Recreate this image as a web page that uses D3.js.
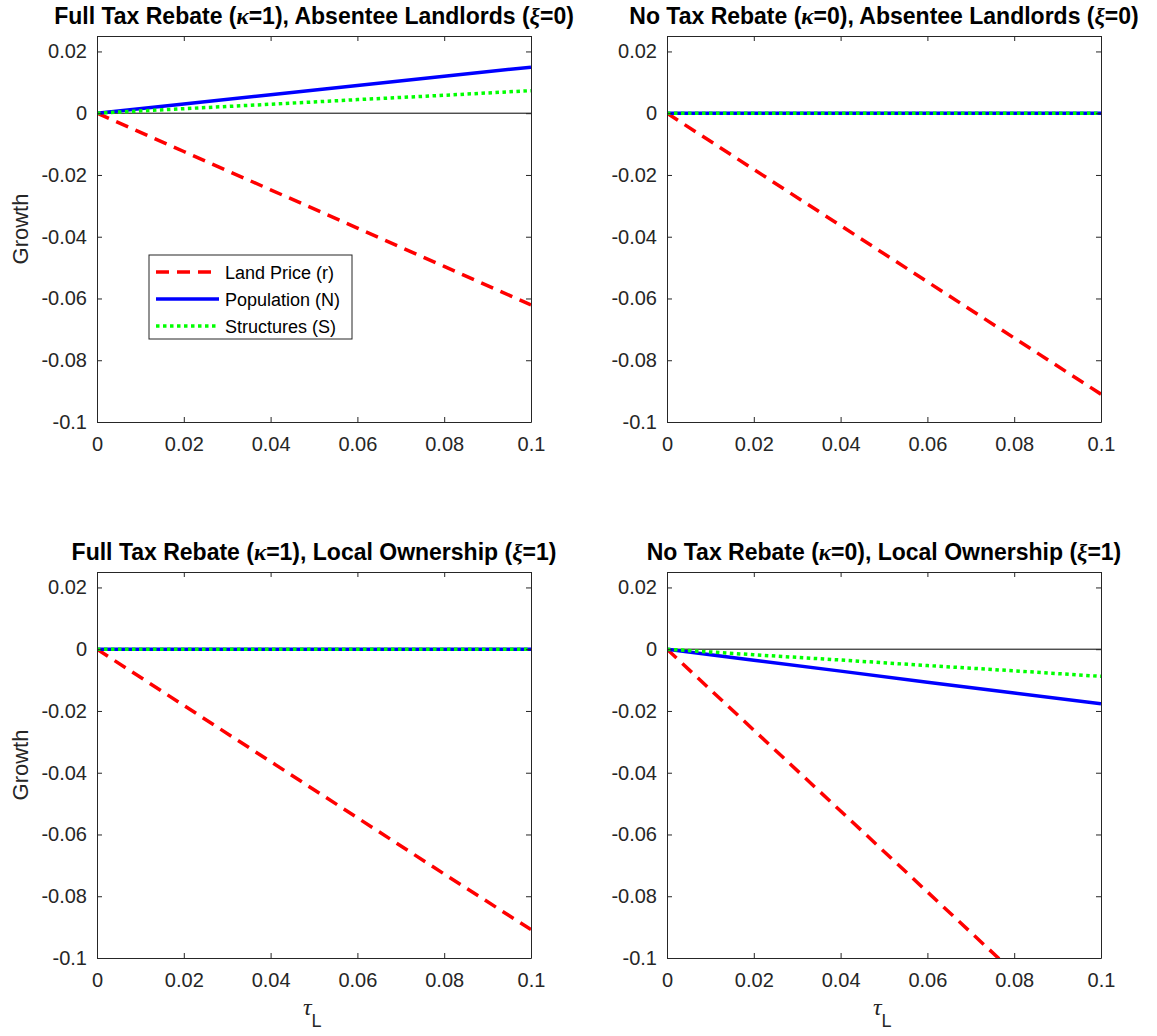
<!DOCTYPE html>
<html>
<head>
<meta charset="utf-8">
<script src="https://cdn.jsdelivr.net/npm/d3@7"></script>
<style>
  body { margin: 0; background: #fff; }
  text { font-family: "Liberation Sans", Arial, sans-serif; }
</style>
</head>
<body>
<div id="chart"></div>
<script>
// x values (tau_L)
var tau = [0, 0.02, 0.04, 0.06, 0.08, 0.1];

// Full rebate, absentee landlords
var landPrice1 = [0, -0.0124, -0.0248, -0.0372, -0.0496, -0.0621];
var population1 = [0, 0.003, 0.006, 0.009, 0.012, 0.0149];
var structures1 = [0, 0.00146, 0.0029, 0.0044, 0.0058, 0.0073];

// No rebate, absentee landlords
var landPrice2 = [0, -0.0182, -0.0364, -0.0546, -0.0728, -0.091];
var population2 = [0, 0, 0, 0, 0, 0];
var structures2 = [0, 0, 0, 0, 0, 0];

// Full rebate, local ownership
var landPrice3 = [0, -0.0182, -0.0364, -0.0546, -0.0728, -0.0908];
var population3 = [0, 0, 0, 0, 0, 0];
var structures3 = [0, 0, 0, 0, 0, 0];

// No rebate, local ownership
var landPrice4 = [0, -0.0262, -0.0524, -0.0786, -0.1048, -0.131];
var population4 = [0, -0.0036, -0.0071, -0.0107, -0.0142, -0.0177];
var structures4 = [0, -0.0018, -0.0035, -0.0053, -0.007, -0.0088];

var xTicks = [0, 0.02, 0.04, 0.06, 0.08, 0.1];
var yTicks = [-0.1, -0.08, -0.06, -0.04, -0.02, 0, 0.02];
var seriesNames = ["Land Price (r)", "Population (N)", "Structures (S)"];

var panels = [
    { pre: "Full Tax Rebate (", k: "1", mid: "), Absentee Landlords (", xi: "0", data: [landPrice1, population1, structures1] },
    { pre: "No Tax Rebate (", k: "0", mid: "), Absentee Landlords (", xi: "0", data: [landPrice2, population2, structures2] },
    { pre: "Full Tax Rebate (", k: "1", mid: "), Local Ownership (", xi: "1", data: [landPrice3, population3, structures3] },
    { pre: "No Tax Rebate (", k: "0", mid: "), Local Ownership (", xi: "1", data: [landPrice4, population4, structures4] }
];

var width = 1157, height = 1036;
var pw = 434, ph = 386;
var origins = [[97, 36], [667, 36], [97, 572], [667, 572]];

var styles = [
    { color: "#ff0000", dash: "13,8" },
    { color: "#0000ff", dash: null },
    { color: "#00ff00", dash: "3.5,3.5" }
];

var svg = d3.select("#chart")
    .append("svg")
    .attr("width", width)
    .attr("height", height);

var x = d3.scaleLinear().domain([0, 0.1]).range([0, pw]);
var y = d3.scaleLinear().domain([-0.1, 0.025]).range([ph, 0]);
var fmt = d => d === 0 ? "0" : String(+d.toFixed(2));
var axisColor = "#262626";

panels.forEach(function(p, i) {
    var g = svg.append("g")
        .attr("transform", `translate(${origins[i][0]},${origins[i][1]})`);

    g.append("clipPath").attr("id", "clip" + i)
        .append("rect").attr("width", pw).attr("height", ph);

    // zero reference
    g.append("line")
        .attr("x1", 0).attr("x2", pw)
        .attr("y1", y(0)).attr("y2", y(0))
        .attr("stroke", "#000").attr("stroke-width", 1);

    var line = d3.line()
        .x((d, j) => x(tau[j]))
        .y(d => y(d));

    p.data.forEach(function(vals, s) {
        g.append("path")
            .datum(vals)
            .attr("clip-path", `url(#clip${i})`)
            .attr("fill", "none")
            .attr("stroke", styles[s].color)
            .attr("stroke-width", 3.5)
            .attr("stroke-dasharray", styles[s].dash)
            .attr("d", line);
    });

    // axes, ticks inside on all four sides
    var axes = [
        g.append("g").attr("transform", `translate(0,${ph})`)
            .call(d3.axisBottom(x).tickValues(xTicks).tickFormat(fmt).tickSizeInner(-5).tickSizeOuter(0).tickPadding(15)),
        g.append("g")
            .call(d3.axisLeft(y).tickValues(yTicks).tickFormat(fmt).tickSizeInner(-5).tickSizeOuter(0).tickPadding(10)),
        g.append("g")
            .call(d3.axisTop(x).tickValues(xTicks).tickFormat("").tickSizeInner(-5).tickSizeOuter(0)),
        g.append("g").attr("transform", `translate(${pw},0)`)
            .call(d3.axisRight(y).tickValues(yTicks).tickFormat("").tickSizeInner(-5).tickSizeOuter(0))
    ];
    axes.forEach(function(a) {
        a.select(".domain").attr("stroke", axisColor).attr("stroke-width", 1);
        a.selectAll(".tick line").attr("stroke", axisColor);
        a.selectAll("text")
            .attr("fill", axisColor)
            .style("font-family", "'Liberation Sans', Arial, sans-serif")
            .style("font-size", "20px");
    });

    // title
    var t = g.append("text")
        .attr("x", pw / 2)
        .attr("y", -12)
        .attr("text-anchor", "middle")
        .style("font-size", "23px")
        .style("font-weight", "bold")
        .attr("fill", "#000");
    t.append("tspan").text(p.pre);
    t.append("tspan").text("\u03BA").style("font-family", "'Liberation Serif', serif").style("font-style", "italic");
    t.append("tspan").text("=" + p.k + p.mid);
    t.append("tspan").text("\u03BE").style("font-family", "'Liberation Serif', serif").style("font-style", "italic");
    t.append("tspan").text("=" + p.xi + ")");

    if (i % 2 === 0) {
        g.append("text")
            .attr("transform", `translate(-69,${ph / 2}) rotate(-90)`)
            .attr("text-anchor", "middle")
            .attr("fill", axisColor)
            .style("font-size", "22px")
            .text("Growth");
    }

    if (i >= 2) {
        var xl = g.append("text")
            .attr("x", pw / 2 - 11)
            .attr("y", ph + 57)
            .attr("fill", axisColor)
            .style("font-size", "24px");
        xl.append("tspan").text("\u03C4").style("font-family", "'Liberation Serif', serif").style("font-style", "italic");
        xl.append("tspan").text("L").attr("dy", 12).style("font-size", "18px")
            .style("font-family", "'Liberation Sans', Arial, sans-serif");
    }

    if (i === 0) {
        var lg = g.append("g").attr("transform", "translate(52,219)");
        lg.append("rect")
            .attr("width", 203).attr("height", 84)
            .attr("fill", "#fff")
            .attr("stroke", axisColor).attr("stroke-width", 1);
        seriesNames.forEach(function(name, s) {
            var yy = 17 + s * 27;
            lg.append("line")
                .attr("x1", 7).attr("x2", 70)
                .attr("y1", yy).attr("y2", yy)
                .attr("stroke", styles[s].color)
                .attr("stroke-width", 3.5)
                .attr("stroke-dasharray", styles[s].dash);
            lg.append("text")
                .attr("x", 76).attr("y", yy + 6.5)
                .attr("fill", "#000")
                .style("font-size", "18px")
                .text(name);
        });
    }
});
</script>
</body>
</html>
